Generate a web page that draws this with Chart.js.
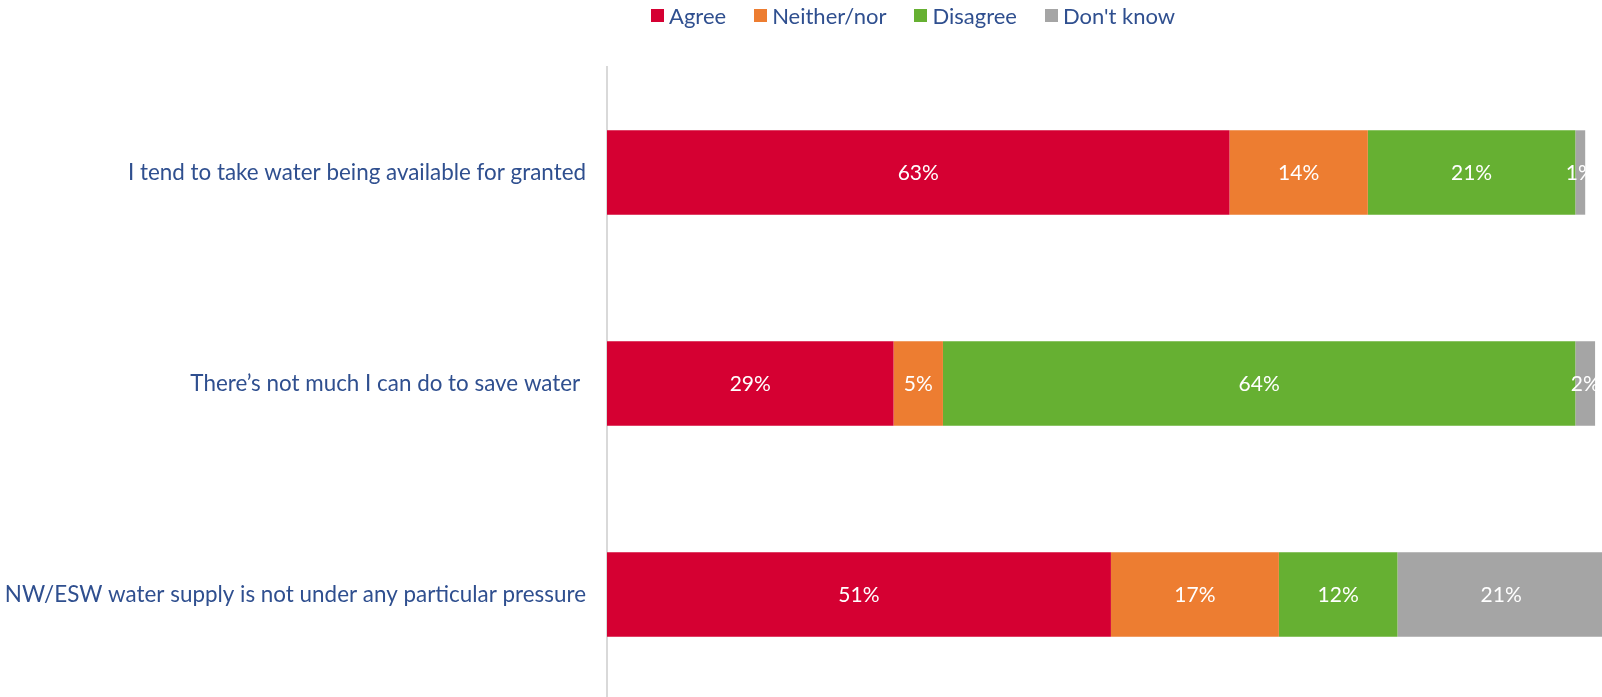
<!DOCTYPE html>
<html>
<head>
<meta charset="utf-8">
<script src="https://cdn.jsdelivr.net/npm/chart.js@4.4.1/dist/chart.umd.min.js"></script>
<style>
  html, body { margin: 0; padding: 0; background: #fff; overflow: hidden; }
  #wrap { position: relative; width: 1602px; height: 697px; overflow: hidden; }
  #legend {
    position: absolute; left: 651px; top: 2px;
    display: flex; align-items: center;
    font-family: Lato, "Open Sans", sans-serif; font-size: 22px; color: #2f4f8f;
  }
  #legend .item { display: flex; align-items: center; margin-right: 28px; }
  #legend .box { width: 13px; height: 13px; margin-right: 5px; }
</style>
</head>
<body>
<div id="wrap">
  <canvas id="chart" width="1602" height="700"></canvas>
  <div id="legend"></div>
</div>
<script>
// survey statements and response shares (%)
const statements = [
  'I tend to take water being available for granted',
  'There\u2019s not much I can do to save water ',
  'NW/ESW water supply is not under any particular pressure'
];
const agree = [63, 29, 51];
const neither = [14, 5, 17];
const disagree = [21, 64, 12];
const dontKnow = [1, 2, 21];

const seriesNames = ['Agree', 'Neither/nor', 'Disagree', "Don't know"];
const seriesColors = ['#d50032', '#ed7d31', '#66b032', '#a5a5a5'];
const seriesData = [agree, neither, disagree, dontKnow];

const textBlue = '#2f4f8f';
const font = 'Lato, "Open Sans", sans-serif';

// legend
const legendEl = document.getElementById('legend');
seriesNames.forEach((name, i) => {
  const item = document.createElement('div');
  item.className = 'item';
  const box = document.createElement('span');
  box.className = 'box';
  box.style.background = seriesColors[i];
  const label = document.createElement('span');
  label.textContent = name;
  item.appendChild(box);
  item.appendChild(label);
  legendEl.appendChild(item);
});

// white percentage labels in the middle of each segment
const segmentLabels = {
  id: 'segmentLabels',
  afterDatasetsDraw(chart) {
    const ctx = chart.ctx;
    ctx.save();
    ctx.font = '21px ' + font;
    ctx.fillStyle = '#ffffff';
    ctx.textAlign = 'center';
    ctx.textBaseline = 'middle';
    chart.data.datasets.forEach((ds, di) => {
      chart.getDatasetMeta(di).data.forEach((bar, i) => {
        const v = ds.data[i];
        if (!v) return;
        const p = bar.getProps(['x', 'y', 'base'], true);
        ctx.fillText(v + '%', (p.x + p.base) / 2, p.y + 1);
      });
    });
    ctx.restore();
  }
};

new Chart(document.getElementById('chart'), {
  type: 'bar',
  data: {
    labels: statements,
    datasets: seriesNames.map((name, i) => ({
      label: name,
      data: seriesData[i],
      backgroundColor: seriesColors[i],
      borderWidth: 0,
      categoryPercentage: 0.4,
      barPercentage: 1
    }))
  },
  options: {
    indexAxis: 'y',
    responsive: false,
    animation: false,
    layout: { padding: { top: 67, right: 0, bottom: 0, left: 0 } },
    plugins: {
      legend: { display: false },
      tooltip: { enabled: false }
    },
    scales: {
      x: {
        stacked: true,
        min: 0,
        max: 100.7,
        display: false
      },
      y: {
        stacked: true,
        grid: { display: false, drawTicks: false },
        border: { display: true, color: '#d9d9d9', width: 2 },
        ticks: {
          color: textBlue,
          font: { family: font, size: 22.4 },
          padding: 21
        },
        afterFit(scale) {
          scale.width = 607;
          scale.paddingTop = 0;
          scale.paddingBottom = 0;
        }
      }
    }
  },
  plugins: [segmentLabels]
});
</script>
</body>
</html>
